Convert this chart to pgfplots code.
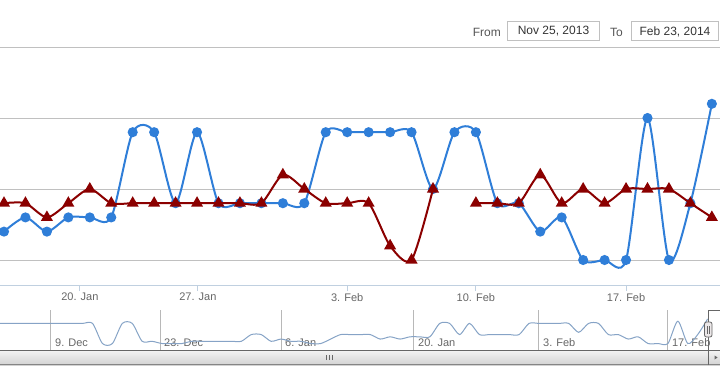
\documentclass[border=0pt]{standalone}
\usepackage{pgfplots}
\usepackage{pgfplotstable}
\pgfplotsset{compat=1.18}
\usepackage{fontspec}
\setmainfont{Liberation Sans}
\definecolor{hcblue}{HTML}{2F7ED8}
\definecolor{hcred}{HTML}{8B0000}
\definecolor{gridc}{HTML}{C0C0C0}
\definecolor{axisc}{HTML}{C0D0E0}
\definecolor{labc}{HTML}{666666}
\definecolor{navline}{HTML}{86A3C6}
\definecolor{navgrid}{HTML}{B8B8B8}
\definecolor{darkc}{HTML}{666666}
\definecolor{sbtop}{HTML}{F4F4F4}
\definecolor{sbbot}{HTML}{D2D2D2}
\definecolor{handlec}{HTML}{EBE7E8}
\definecolor{selc}{HTML}{555555}
\definecolor{boxtext}{HTML}{333333}

\pgfplotstableread{
i blue red
0 7 9
1 8 9
2 7 8
3 8 9
4 8 10
5 8 9
6 14 9
7 14 9
8 9 9
9 14 9
10 9 9
11 9 9
12 9 9
13 9 11
14 9 10
15 14 9
16 14 9
17 14 9
18 14 6
19 14 5
20 10 10
21 14 nan
22 14 9
23 9 9
24 9 9
25 7 11
26 8 9
27 5 10
28 5 9
29 5 10
30 15 10
31 5 10
32 9 9
33 16 8
}\maindata

\pgfplotstableread{
k u
-39 14
-38 14
-37 14
-36 14
-35 14
-34 14
-33 14
-32 14
-31 14
-30 14
-29 14
-28 5
-27 5
-26 14
-25 14
-24 6
-23 6
-22 5
-21 5
-20 5
-19 6
-18 6
-17 6
-16 6
-15 6
-14 6
-13 9
-12 9
-11 6
-10 7
-9 6
-8 6
-7 5
-6 5
-5 7
-4 9
-3 9
-2 9
-1 9
0 7
1 8
2 7
3 8
4 8
5 8
6 14
7 14
8 9
9 14
10 9
11 9
12 9
13 9
14 9
15 14
16 14
17 14
18 14
19 14
20 10
21 14
22 14
23 9
24 9
25 7
26 8
27 5
28 5
29 5
30 15
31 5
32 9
33 16
}\navdata

\begin{document}
\begin{tikzpicture}

% main chart
\begin{axis}[
  at={(0pt,88pt)}, anchor=south west, scale only axis,
  width=720pt, height=238pt,
  xmin=-0.1865, xmax=33.38, ymin=3.24, ymax=20,
  axis line style={draw=none},
  xtick={3.54,9.04,16,22,29},
  xticklabels={20. Jan,27. Jan,3. Feb,10. Feb,17. Feb},
  xtick pos=lower,
  ytick={5,10,15,20}, yticklabels={},
  ymajorgrids, major grid style={draw=gridc, line width=1pt},
  tick align=outside, major tick length=6pt,
  xtick style={draw=axisc, line width=1pt},
  ytick style={draw=none},
  xticklabel style={font=\fontsize{11}{13}\selectfont, text=labc, inner sep=0pt, anchor=north, yshift=-2pt},
  clip mode=individual,
]
\draw[axisc, line width=1pt] (rel axis cs:0,0) -- (rel axis cs:1,0);
\addplot[hcblue, line width=2pt, smooth, tension=0.45, mark=*, mark size=4pt,
  mark options={draw=none, fill=hcblue}] table[x=i, y=blue] {\maindata};
\addplot[hcred, line width=2pt, smooth, tension=0.45, mark=triangle*, mark size=5pt,
  mark options={draw=none, fill=hcred}, unbounded coords=jump] table[x=i, y=red] {\maindata};
\end{axis}

% navigator
\begin{axis}[
  at={(0pt,23pt)}, anchor=south west, scale only axis,
  width=720pt, height=40pt,
  xmin=-38.33, xmax=34.25, ymin=2.1, ymax=20,
  axis line style={draw=none}, ytick=\empty,
  xtick={-33.19,-22.2,-10.0,3.4,16,29},
  xticklabels={9. Dec,23. Dec,6. Jan,20. Jan,3. Feb,17. Feb},
  xtick pos=lower,
  xmajorgrids, major grid style={draw=navgrid, line width=1pt},
  xtick style={draw=none},
  xticklabel style={font=\fontsize{11}{13}\selectfont, text=labc, inner sep=0pt, anchor=base west, xshift=4pt, yshift=4pt},
]
\addplot[navline, line width=1pt, smooth, tension=0.45, no marks] table[x=k, y=u] {\navdata};
\end{axis}

% scrollbar
\shade[top color=sbtop, bottom color=sbbot] (0pt,8pt) rectangle (720pt,23pt);
\draw[darkc, line width=1pt] (0pt,23pt) -- (720pt,23pt);
\draw[darkc!80, line width=1pt] (0pt,8.5pt) -- (720pt,8.5pt);
\draw[darkc, line width=0.8pt] (326pt,13pt) -- (326pt,18pt) (329pt,13pt) -- (329pt,18pt) (332pt,13pt) -- (332pt,18pt);
\draw[darkc, line width=1pt] (708pt,8pt) -- (708pt,63pt) -- (720pt,63pt);
\fill[darkc] (714.5pt,13.5pt) -- (717.5pt,15.5pt) -- (714.5pt,17.5pt) -- cycle;
% handle
\draw[darkc, fill=handlec, line width=0.8pt, rounded corners=2pt] (704.5pt,36pt) rectangle (712pt,51pt);
\draw[darkc, line width=0.8pt] (707.3pt,39.5pt) -- (707.3pt,47.5pt) (709.3pt,39.5pt) -- (709.3pt,47.5pt);

% range selector
\node[anchor=east, text=selc, font=\fontsize{12}{14}\selectfont, inner sep=0pt] at (501pt,341pt) {From};
\draw[gridc, line width=1pt] (507.5pt,332pt) rectangle (599.5pt,351pt);
\node[text=boxtext, font=\fontsize{12}{14}\selectfont, inner sep=0pt] at (553.5pt,341.5pt) {Nov 25, 2013};
\node[anchor=west, text=selc, font=\fontsize{12}{14}\selectfont, inner sep=0pt] at (610pt,341pt) {To};
\draw[gridc, line width=1pt] (631.5pt,332pt) rectangle (718.5pt,351pt);
\node[text=boxtext, font=\fontsize{12}{14}\selectfont, inner sep=0pt] at (675pt,341.5pt) {Feb 23, 2014};

\pgfresetboundingbox
\useasboundingbox (0pt,0pt) rectangle (720pt,373pt);
\end{tikzpicture}
\end{document}
